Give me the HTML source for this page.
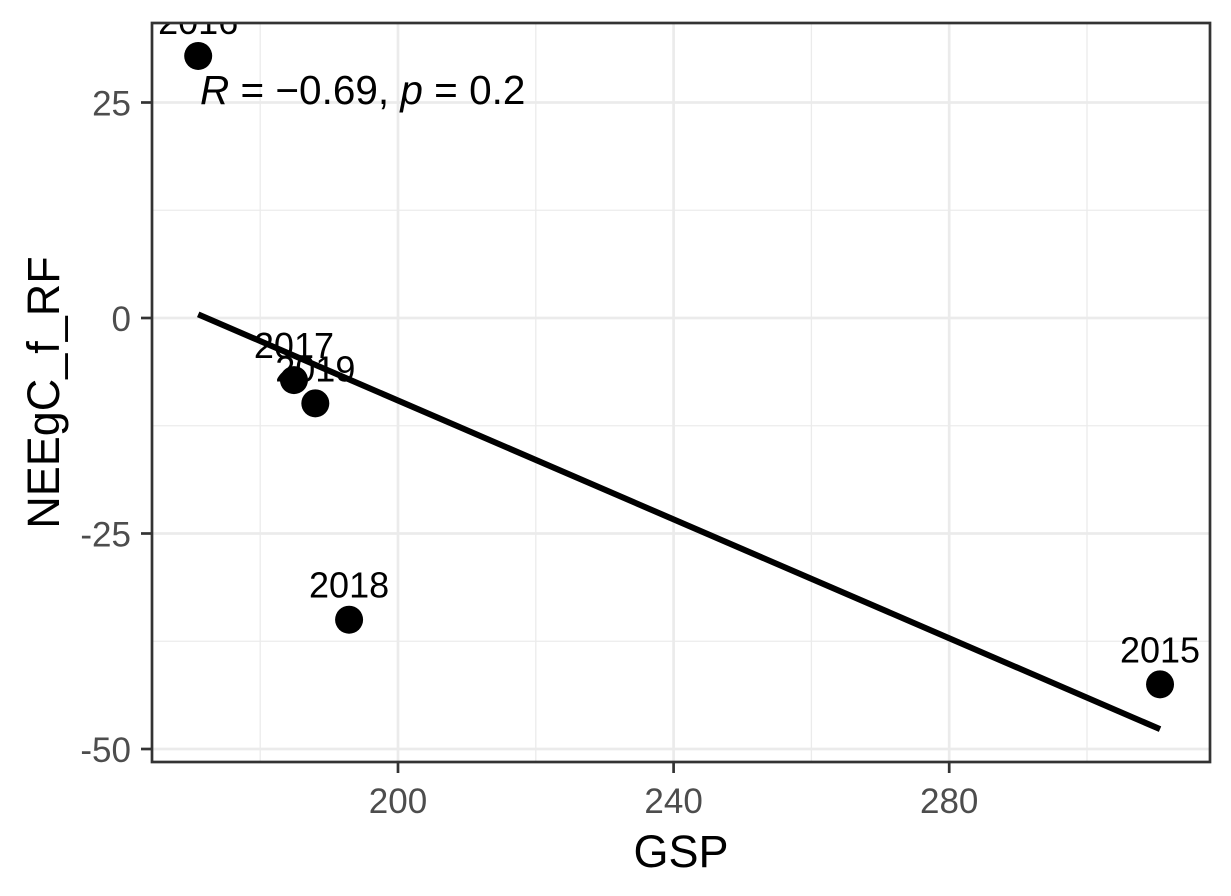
<!DOCTYPE html>
<html><head><meta charset="utf-8"><style>
html,body{margin:0;padding:0;background:#fff;}
svg{display:block;font-family:"Liberation Sans",Arial,sans-serif;}
</style></head><body>
<svg id="chart" width="1231" height="896">
<defs><clipPath id="panelClip"><rect x="152" y="23" width="1058" height="739"/></clipPath></defs>
</svg>
<script>
const years = ["2016","2017","2019","2018","2015"];
const gspValues = [171.0, 184.9, 188.0, 192.9, 310.6];
const neeValues = [30.4, -7.2, -9.9, -35.0, -42.5];
const xTicks = [200, 240, 280];
const xMinor = [180, 220, 260, 300];
const yTicks = [25, 0, -25, -50];
const yTickLabels = ["25", "0", "-25", "-50"];
const yMinor = [12.5, -12.5, -37.5];

const NS = "http://www.w3.org/2000/svg";
const svg = document.getElementById("chart");
const L = 152, R = 1210, T = 23, B = 762;
const sx = v => 398 + (v - 200) * 6.89;
const sy = v => 318 - v * 8.62;
function mk(tag, attrs, parent) {
  const e = document.createElementNS(NS, tag);
  for (const k in attrs) e.setAttribute(k, attrs[k]);
  (parent || svg).appendChild(e);
  return e;
}
const grid = mk("g", {});


xMinor.forEach(v => mk("line", {x1: sx(v), x2: sx(v), y1: T, y2: B, stroke: "#ebebeb", "stroke-width": 1.3}, grid));
yMinor.forEach(v => mk("line", {x1: L, x2: R, y1: sy(v), y2: sy(v), stroke: "#ebebeb", "stroke-width": 1.3}, grid));
xTicks.forEach(v => mk("line", {x1: sx(v), x2: sx(v), y1: T, y2: B, stroke: "#ebebeb", "stroke-width": 2.7}, grid));
yTicks.forEach(v => mk("line", {x1: L, x2: R, y1: sy(v), y2: sy(v), stroke: "#ebebeb", "stroke-width": 2.7}, grid));

const panel = mk("g", {"clip-path": "url(#panelClip)"});



const n = gspValues.length;
const mx = gspValues.reduce((a, b) => a + b, 0) / n;
const my = neeValues.reduce((a, b) => a + b, 0) / n;
let sxy = 0, sxx = 0;
for (let i = 0; i < n; i++) { sxy += (gspValues[i] - mx) * (neeValues[i] - my); sxx += (gspValues[i] - mx) ** 2; }
const slope = sxy / sxx, icpt = my - slope * mx;
const xmin = Math.min(...gspValues), xmax = Math.max(...gspValues);
const reg = mk("line", {x1: sx(xmin), y1: sy(icpt + slope * xmin), x2: sx(xmax), y2: sy(icpt + slope * xmax), stroke: "#000", "stroke-width": 6}, panel);



gspValues.forEach((g, i) => {
  const c = mk("circle", {cx: sx(g), cy: sy(neeValues[i]), r: 14, fill: "#000"}, panel);
  
  
  const t = mk("text", {x: sx(g), y: sy(neeValues[i]) - 22, "text-anchor": "middle", "font-size": 36, fill: "#000"}, panel);
  t.textContent = years[i];
  
  
});

const ann = mk("text", {x: 200, y: 104, "font-size": 40.5, fill: "#000"}, panel);


ann.innerHTML = '<tspan font-style="italic">R</tspan> = \u22120.69, <tspan font-style="italic">p</tspan> = 0.2';

const frame = mk("rect", {x: L, y: T, width: R - L, height: B - T, fill: "none", stroke: "#333", "stroke-width": 2.7});



xTicks.forEach(v => {
  mk("line", {x1: sx(v), x2: sx(v), y1: B, y2: B + 11, stroke: "#333", "stroke-width": 2.7});
  const t = mk("text", {x: sx(v), y: B + 51, "text-anchor": "middle", "font-size": 35, fill: "#4d4d4d"});
  t.textContent = v;
  
  
});
yTicks.forEach((v, i) => {
  mk("line", {x1: L - 11, x2: L, y1: sy(v), y2: sy(v), stroke: "#333", "stroke-width": 2.7});
  const t = mk("text", {x: L - 21, y: sy(v) + 13, "text-anchor": "end", "font-size": 35, fill: "#4d4d4d"});
  t.textContent = yTickLabels[i];
  
  
});

const xt = mk("text", {x: (L + R) / 2, y: 867, "text-anchor": "middle", "font-size": 45, fill: "#000"});
xt.textContent = "GSP";


const yt = mk("text", {x: 0, y: 0, "text-anchor": "middle", "font-size": 45, fill: "#000", transform: `translate(59 ${(T + B) / 2}) rotate(-90)`});
yt.textContent = "NEEgC_f_RF";


</script>
</body></html>
